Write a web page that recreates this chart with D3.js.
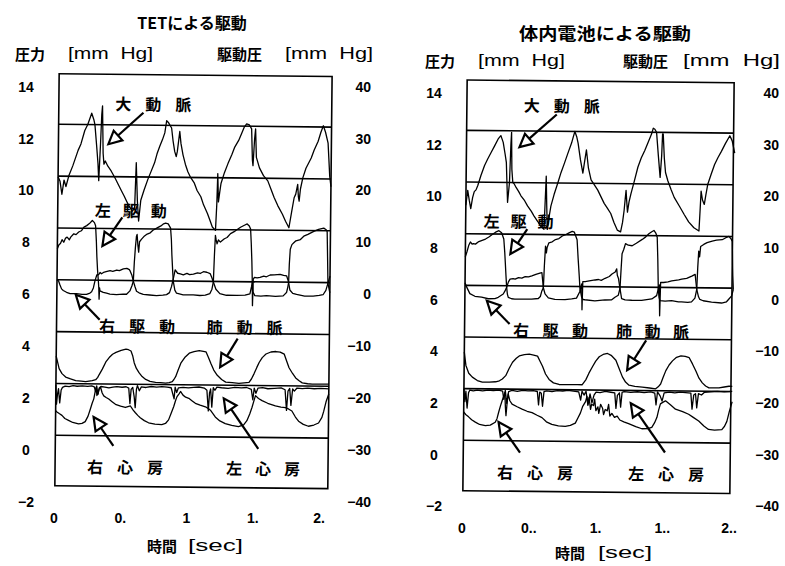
<!DOCTYPE html>
<html>
<head>
<meta charset="utf-8">
<script src="https://cdn.jsdelivr.net/npm/d3@7"></script>
<style>
  body { margin: 0; background: #fff; }
  svg { display: block; }
  text { white-space: pre; fill: #000; }
  .num { font: bold 14px "Liberation Sans", Arial, sans-serif; }
  .jp { font-family: "Noto Sans CJK JP", sans-serif; font-weight: 700; }
  .lat { font-family: "Liberation Sans", Arial, sans-serif; font-weight: 400; }
</style>
</head>
<body>
<svg id="chart" width="785" height="566"></svg>
<script>
// ---- axis ticks ----
const pressureTicks = [14, 12, 10, 8, 6, 4, 2, 0, -2];          // 圧力 [mm Hg]
const drivePressureTicks = [40, 30, 20, 10, 0, -10, -20, -30, -40]; // 駆動圧 [mm Hg]
const timeTickValues = [0, 0.5, 1, 1.5, 2];
const tetTimeLabels = ["0", "0.", "1", "1.", "2."];
const batTimeLabels = ["0", "0..", "1.", "1..", "2.."];
const baselineLevels = [0.5, 2.5, 4.5, 6.5, 8.5, 10.5, 12.5];

// ---- TET drive: [time s, pressure] ----
const tetAorta = [[0,10.47],[0.015,10.3],[0.03,9.8],[0.045,10.35],[0.06,10.1],[0.083,10.55],[0.11,10.9],[0.149,11.5],[0.17,11.75],[0.198,12.27],[0.22,12.5],[0.249,12.94],[0.265,12.7],[0.274,12.5],[0.29,11.6],[0.30,11.0],[0.307,10.34],[0.318,11.8],[0.325,12.9],[0.33,13.23],[0.338,11.4],[0.345,10.98],[0.355,11.1],[0.375,10.9],[0.40,10.72],[0.43,10.45],[0.45,10.25],[0.48,9.95],[0.50,9.76],[0.52,9.55],[0.538,9.37],[0.564,9.18],[0.58,9.3],[0.589,11.05],[0.60,9.6],[0.611,8.8],[0.626,9.6],[0.65,10.0],[0.677,10.4],[0.70,10.7],[0.727,11.05],[0.745,11.4],[0.765,11.69],[0.785,11.95],[0.802,12.21],[0.815,12.68],[0.83,12.6],[0.853,12.40],[0.865,11.9],[0.878,11.5],[0.89,11.3],[0.898,11.5],[0.915,12.27],[0.925,11.8],[0.941,11.37],[0.96,11.0],[0.979,10.72],[1.0,10.5],[1.029,10.28],[1.05,10.0],[1.079,9.76],[1.10,9.45],[1.13,9.12],[1.15,8.85],[1.168,8.60],[1.192,8.47],[1.200,9.5],[1.205,10.66],[1.212,9.57],[1.22,9.9],[1.23,10.28],[1.255,10.7],[1.281,11.05],[1.31,11.4],[1.331,11.69],[1.36,11.95],[1.381,12.21],[1.40,12.45],[1.419,12.59],[1.44,12.55],[1.457,12.40],[1.465,11.2],[1.47,10.98],[1.48,12.0],[1.487,12.40],[1.495,11.3],[1.519,10.9],[1.55,10.6],[1.583,10.4],[1.61,10.05],[1.632,9.76],[1.66,9.45],[1.696,9.12],[1.72,8.85],[1.746,8.60],[1.765,9.2],[1.783,9.76],[1.795,9.9],[1.809,10.28],[1.815,9.8],[1.821,9.63],[1.83,10.1],[1.847,10.53],[1.87,10.9],[1.909,11.30],[1.93,11.6],[1.96,11.95],[1.98,12.3],[1.998,12.55],[2.015,12.3],[2.035,11.88],[2.05,10.6],[2.06,10.2]];
const tetLvDrive = [[0,7.7],[0.012,7.85],[0.023,7.9],[0.035,8.05],[0.048,7.95],[0.06,8.1],[0.073,8.15],[0.09,8.05],[0.10,8.15],[0.123,8.28],[0.14,8.25],[0.16,8.35],[0.18,8.4],[0.199,8.54],[0.22,8.6],[0.24,8.68],[0.262,8.80],[0.278,8.72],[0.287,8.6],[0.294,8.0],[0.299,7.4],[0.305,6.9],[0.312,6.48],[0.316,6.2],[0.319,5.77],[0.322,6.2],[0.325,6.09],[0.35,6.03],[0.375,6.0],[0.40,5.97],[0.45,5.95],[0.50,5.97],[0.526,5.97],[0.551,6.1],[0.566,6.3],[0.576,6.48],[0.582,7.2],[0.589,7.77],[0.596,8.2],[0.601,8.28],[0.607,7.9],[0.614,7.6],[0.62,8.0],[0.635,8.1],[0.652,8.2],[0.677,8.3],[0.70,8.35],[0.72,8.45],[0.752,8.54],[0.78,8.62],[0.80,8.7],[0.815,8.73],[0.835,8.7],[0.853,8.54],[0.86,8.1],[0.865,7.5],[0.872,6.9],[0.878,6.48],[0.89,6.15],[0.903,6.03],[0.953,5.97],[1.029,5.97],[1.079,5.95],[1.12,5.97],[1.155,6.03],[1.17,6.2],[1.18,6.48],[1.186,7.5],[1.192,8.28],[1.198,8.1],[1.205,7.95],[1.215,8.1],[1.23,8.02],[1.26,8.15],[1.28,8.2],[1.306,8.35],[1.34,8.45],[1.381,8.60],[1.41,8.68],[1.431,8.73],[1.447,8.65],[1.457,8.54],[1.463,8.0],[1.469,7.3],[1.474,6.48],[1.48,6.1],[1.494,5.97],[1.54,5.95],[1.582,5.97],[1.65,5.95],[1.708,5.97],[1.733,6.1],[1.742,6.3],[1.748,6.48],[1.752,7.2],[1.758,7.77],[1.77,7.95],[1.784,8.02],[1.80,8.1],[1.834,8.15],[1.859,8.28],[1.89,8.35],[1.934,8.47],[1.97,8.55],[2.009,8.60],[2.025,8.55],[2.035,8.47],[2.04,7.5],[2.045,6.48],[2.06,6.1]];
const tetRvDrive = [[0,6.5],[0.012,6.45],[0.023,6.3],[0.035,6.15],[0.048,6.09],[0.073,6.02],[0.10,5.97],[0.148,5.97],[0.19,5.95],[0.224,5.95],[0.25,6.0],[0.262,6.05],[0.275,6.2],[0.287,6.48],[0.30,6.7],[0.315,6.72],[0.325,6.80],[0.335,6.75],[0.35,6.80],[0.37,6.83],[0.40,6.87],[0.42,6.85],[0.45,6.90],[0.47,6.88],[0.50,6.95],[0.526,6.97],[0.545,6.92],[0.551,6.87],[0.565,6.7],[0.576,6.48],[0.59,6.25],[0.601,6.09],[0.62,6.03],[0.652,5.97],[0.70,5.95],[0.752,5.93],[0.80,5.95],[0.828,5.97],[0.85,6.05],[0.865,6.29],[0.878,6.6],[0.891,6.93],[0.91,6.8],[0.93,6.78],[0.953,6.74],[0.98,6.8],[1.0,6.75],[1.029,6.77],[1.06,6.82],[1.08,6.8],[1.104,6.87],[1.13,6.85],[1.155,6.80],[1.168,6.65],[1.18,6.48],[1.2,6.2],[1.23,6.03],[1.28,5.97],[1.356,5.97],[1.42,5.98],[1.457,6.03],[1.468,6.3],[1.474,6.48],[1.477,5.58],[1.481,6.6],[1.49,6.67],[1.51,6.65],[1.532,6.67],[1.56,6.72],[1.58,6.7],[1.608,6.77],[1.64,6.78],[1.683,6.80],[1.71,6.76],[1.733,6.74],[1.745,6.55],[1.748,6.48],[1.758,6.2],[1.78,6.07],[1.809,6.03],[1.87,5.97],[1.934,5.97],[1.98,6.0],[2.009,6.03],[2.03,6.2],[2.045,6.48],[2.06,6.75]];
const tetPulmArtery = [[0,3.55],[0.012,3.3],[0.023,3.07],[0.045,2.88],[0.073,2.75],[0.11,2.68],[0.149,2.62],[0.19,2.6],[0.224,2.58],[0.25,2.6],[0.274,2.62],[0.30,2.66],[0.315,2.75],[0.325,2.85],[0.349,3.07],[0.375,3.35],[0.40,3.52],[0.425,3.65],[0.451,3.72],[0.49,3.8],[0.526,3.85],[0.545,3.83],[0.564,3.78],[0.577,3.6],[0.589,3.33],[0.605,3.12],[0.626,2.95],[0.65,2.8],[0.677,2.69],[0.71,2.62],[0.752,2.58],[0.79,2.57],[0.828,2.56],[0.855,2.58],[0.878,2.62],[0.89,2.7],[0.903,2.81],[0.92,3.05],[0.941,3.33],[0.97,3.55],[1.004,3.72],[1.04,3.78],[1.079,3.82],[1.11,3.8],[1.13,3.78],[1.15,3.55],[1.168,3.33],[1.19,3.08],[1.217,2.88],[1.25,2.72],[1.281,2.62],[1.33,2.6],[1.381,2.58],[1.42,2.6],[1.457,2.62],[1.475,2.75],[1.494,2.95],[1.515,3.2],[1.532,3.39],[1.555,3.58],[1.583,3.72],[1.62,3.8],[1.658,3.82],[1.69,3.8],[1.721,3.72],[1.74,3.45],[1.758,3.20],[1.785,2.98],[1.809,2.81],[1.835,2.7],[1.859,2.62],[1.9,2.59],[1.934,2.58],[1.98,2.58],[2.023,2.58],[2.06,2.58]];
const tetRightAtrium = [[0,1.45],[0.01,1.40],[0.03,1.33],[0.048,1.27],[0.07,1.15],[0.098,1.08],[0.13,1.0],[0.174,0.95],[0.2,0.97],[0.224,1.04],[0.245,1.25],[0.262,1.53],[0.275,1.75],[0.287,1.92],[0.297,2.2],[0.304,2.37],[0.31,2.05],[0.317,2.11],[0.326,2.3],[0.337,2.37],[0.35,2.15],[0.362,2.04],[0.38,1.98],[0.40,1.92],[0.425,1.82],[0.451,1.72],[0.49,1.65],[0.526,1.60],[0.545,1.63],[0.564,1.66],[0.585,1.5],[0.602,1.40],[0.62,1.3],[0.639,1.21],[0.67,1.1],[0.702,1.02],[0.75,0.97],[0.802,0.95],[0.83,1.0],[0.853,1.14],[0.872,1.4],[0.891,1.66],[0.905,1.9],[0.915,2.04],[0.93,2.15],[0.941,2.24],[0.96,2.1],[0.98,2.02],[1.004,1.98],[1.03,1.88],[1.054,1.79],[1.09,1.72],[1.13,1.66],[1.15,1.6],[1.168,1.53],[1.19,1.38],[1.205,1.27],[1.24,1.12],[1.281,1.02],[1.33,0.95],[1.381,0.91],[1.42,0.98],[1.444,1.14],[1.465,1.4],[1.482,1.66],[1.495,1.9],[1.507,2.11],[1.53,2.0],[1.557,1.92],[1.6,1.82],[1.658,1.72],[1.7,1.68],[1.734,1.66],[1.76,1.6],[1.783,1.53],[1.81,1.3],[1.834,1.14],[1.87,1.02],[1.909,0.95],[1.95,1.0],[1.985,1.08],[2.01,1.3],[2.023,1.53],[2.04,1.9],[2.06,2.2]];
const tetLeftAtrium = [[0,2.45],[0.006,1.7],[0.013,2.1],[0.02,2.3],[0.03,1.75],[0.04,2.25],[0.05,2.35],[0.07,2.4],[0.1,2.38],[0.13,2.42],[0.16,2.4],[0.2,2.42],[0.24,2.4],[0.27,2.42],[0.29,2.38],[0.30,2.2],[0.308,2.42],[0.318,2.1],[0.328,2.35],[0.34,2.4],[0.37,2.38],[0.40,2.35],[0.43,2.38],[0.46,2.4],[0.5,2.38],[0.53,2.4],[0.55,2.35],[0.56,1.75],[0.568,2.3],[0.58,2.38],[0.592,2.0],[0.6,1.6],[0.608,2.3],[0.615,2.45],[0.63,2.25],[0.645,2.4],[0.68,2.38],[0.72,2.42],[0.76,2.4],[0.8,2.42],[0.84,2.4],[0.87,2.38],[0.885,2.1],[0.893,1.95],[0.9,2.4],[0.912,2.2],[0.925,2.38],[0.96,2.4],[1.0,2.38],[1.04,2.4],[1.08,2.42],[1.12,2.38],[1.14,2.3],[1.152,1.5],[1.16,2.2],[1.168,2.35],[1.178,1.65],[1.188,2.4],[1.2,2.3],[1.215,2.42],[1.25,2.4],[1.3,2.38],[1.35,2.42],[1.4,2.4],[1.44,2.42],[1.475,2.35],[1.487,1.95],[1.497,2.4],[1.51,2.2],[1.525,2.4],[1.56,2.42],[1.6,2.38],[1.65,2.4],[1.7,2.42],[1.73,2.35],[1.742,1.55],[1.752,2.3],[1.765,2.4],[1.775,1.75],[1.787,2.38],[1.80,2.3],[1.82,2.42],[1.86,2.4],[1.9,2.42],[1.95,2.4],[2.0,2.42],[2.06,2.4]];

// ---- internal battery drive: [time s, pressure] ----
const batAorta = [[0,9.6],[0.013,10.18],[0.025,9.8],[0.037,9.47],[0.05,9.9],[0.062,10.13],[0.075,10.2],[0.088,10.37],[0.11,10.75],[0.137,11.15],[0.16,11.4],[0.187,11.67],[0.21,11.9],[0.237,12.18],[0.257,12.31],[0.275,12.05],[0.29,11.6],[0.30,11.28],[0.306,10.5],[0.312,9.73],[0.325,10.5],[0.333,12.0],[0.337,12.44],[0.342,11.0],[0.35,10.50],[0.36,10.45],[0.375,10.31],[0.395,10.15],[0.412,9.99],[0.44,9.8],[0.462,9.60],[0.49,9.4],[0.512,9.21],[0.54,9.0],[0.562,8.82],[0.587,8.70],[0.594,9.8],[0.60,10.76],[0.606,9.6],[0.612,8.70],[0.625,9.2],[0.637,9.60],[0.66,10.05],[0.687,10.50],[0.71,10.9],[0.736,11.28],[0.76,11.65],[0.787,12.05],[0.8,12.3],[0.811,12.50],[0.825,12.3],[0.836,12.05],[0.855,11.4],[0.874,10.89],[0.885,11.3],[0.899,11.79],[0.915,11.1],[0.936,10.63],[0.96,10.45],[0.987,10.24],[1.01,10.0],[1.036,9.73],[1.06,9.55],[1.086,9.34],[1.11,9.0],[1.136,8.70],[1.161,8.63],[1.175,9.0],[1.186,9.47],[1.193,9.9],[1.199,10.24],[1.205,9.8],[1.211,9.40],[1.222,9.8],[1.236,10.12],[1.26,10.6],[1.286,11.15],[1.31,11.5],[1.336,11.79],[1.36,12.1],[1.386,12.44],[1.398,12.66],[1.41,12.62],[1.423,12.50],[1.438,11.6],[1.453,10.76],[1.463,11.6],[1.468,12.44],[1.473,12.44],[1.483,11.5],[1.493,10.95],[1.511,10.63],[1.535,10.3],[1.56,9.99],[1.6,9.65],[1.635,9.34],[1.67,9.05],[1.71,8.82],[1.748,8.70],[1.755,9.5],[1.761,10.24],[1.772,9.9],[1.786,9.73],[1.797,10.1],[1.81,10.50],[1.835,10.9],[1.86,11.28],[1.885,11.55],[1.91,11.79],[1.94,12.1],[1.972,12.40],[1.99,12.2],[2.01,11.73]];
const batLvDrive = [[0,7.6],[0.012,7.8],[0.025,8.05],[0.037,8.18],[0.05,8.1],[0.06,8.12],[0.075,8.1],[0.1,8.2],[0.125,8.25],[0.15,8.3],[0.175,8.38],[0.2,8.48],[0.225,8.57],[0.25,8.63],[0.27,8.55],[0.287,8.31],[0.295,7.8],[0.30,7.4],[0.306,6.9],[0.312,6.44],[0.318,6.18],[0.325,6.05],[0.35,6.0],[0.375,5.99],[0.425,5.99],[0.50,5.99],[0.55,6.02],[0.565,6.1],[0.575,6.3],[0.587,6.44],[0.593,7.3],[0.60,8.05],[0.607,7.79],[0.612,8.0],[0.625,8.18],[0.65,8.22],[0.674,8.31],[0.70,8.35],[0.725,8.45],[0.749,8.50],[0.775,8.57],[0.799,8.63],[0.815,8.6],[0.836,8.31],[0.845,7.6],[0.855,6.9],[0.861,6.44],[0.874,6.1],[0.886,6.0],[0.899,5.99],[0.974,5.95],[1.049,5.99],[1.1,6.0],[1.124,6.1],[1.149,6.18],[1.161,6.44],[1.168,7.2],[1.174,7.79],[1.186,7.95],[1.199,8.18],[1.22,8.12],[1.249,8.1],[1.28,8.2],[1.324,8.35],[1.35,8.45],[1.373,8.57],[1.395,8.65],[1.411,8.70],[1.425,8.6],[1.436,8.44],[1.442,7.6],[1.448,6.44],[1.455,6.1],[1.461,5.99],[1.5,5.97],[1.548,5.99],[1.6,5.95],[1.623,5.95],[1.67,5.93],[1.698,5.95],[1.723,6.1],[1.736,6.44],[1.742,7.3],[1.748,7.92],[1.755,7.7],[1.762,8.1],[1.785,8.18],[1.81,8.25],[1.848,8.31],[1.88,8.35],[1.923,8.37],[1.95,8.45],[1.973,8.50],[1.99,8.4],[1.998,8.31],[2.005,7.0],[2.01,6.44]];
const batRvDrive = [[0,6.6],[0.012,6.44],[0.037,6.18],[0.075,6.08],[0.125,6.05],[0.175,5.99],[0.225,6.0],[0.25,6.05],[0.287,6.18],[0.30,6.3],[0.312,6.44],[0.325,6.65],[0.337,6.76],[0.36,6.78],[0.375,6.76],[0.40,6.82],[0.425,6.8],[0.45,6.86],[0.475,6.85],[0.50,6.89],[0.53,6.95],[0.56,7.0],[0.575,7.02],[0.587,6.44],[0.60,6.2],[0.625,6.05],[0.674,5.99],[0.75,5.99],[0.8,6.02],[0.836,6.05],[0.86,6.3],[0.866,6.44],[0.874,6.6],[0.878,5.6],[0.882,6.69],[0.9,6.69],[0.93,6.72],[0.974,6.76],[1.0,6.78],[1.02,6.75],[1.049,6.83],[1.08,6.9],[1.1,7.0],[1.124,7.08],[1.135,7.2],[1.14,6.95],[1.149,6.83],[1.161,6.44],[1.174,6.05],[1.2,6.0],[1.249,5.99],[1.324,5.99],[1.4,6.05],[1.436,6.18],[1.448,6.44],[1.455,6.6],[1.46,5.4],[1.465,6.69],[1.486,6.69],[1.52,6.72],[1.548,6.76],[1.6,6.8],[1.623,6.83],[1.66,6.86],[1.698,6.95],[1.723,7.02],[1.73,6.7],[1.736,6.44],[1.75,6.15],[1.76,6.05],[1.785,6.0],[1.848,5.95],[1.923,5.92],[1.96,5.97],[1.973,6.05],[1.998,6.2],[2.01,6.44]];
const batPulmArtery = [[0,3.92],[0.013,3.40],[0.035,3.1],[0.062,2.95],[0.1,2.82],[0.137,2.76],[0.19,2.76],[0.237,2.78],[0.265,2.82],[0.287,2.89],[0.312,3.02],[0.337,3.3],[0.362,3.54],[0.39,3.7],[0.412,3.79],[0.45,3.84],[0.487,3.86],[0.52,3.83],[0.549,3.79],[0.567,3.6],[0.587,3.40],[0.61,3.1],[0.637,2.89],[0.67,2.76],[0.712,2.70],[0.76,2.7],[0.811,2.70],[0.85,2.7],[0.886,2.70],[0.912,2.89],[0.935,3.15],[0.961,3.40],[0.985,3.62],[1.011,3.79],[1.04,3.88],[1.073,3.92],[1.1,3.85],[1.136,3.66],[1.16,3.35],[1.186,3.02],[1.21,2.82],[1.236,2.70],[1.28,2.66],[1.336,2.63],[1.39,2.6],[1.436,2.57],[1.455,2.65],[1.473,2.76],[1.49,3.0],[1.511,3.28],[1.535,3.5],[1.56,3.66],[1.59,3.8],[1.623,3.86],[1.655,3.84],[1.685,3.79],[1.71,3.55],[1.736,3.28],[1.76,3.0],[1.785,2.82],[1.81,2.7],[1.835,2.63],[1.87,2.63],[1.91,2.63],[1.95,2.67],[1.985,2.70],[2.01,2.7]];
const batRightAtrium = [[0,1.60],[0.015,1.5],[0.037,1.41],[0.06,1.3],[0.088,1.21],[0.12,1.12],[0.163,1.08],[0.2,1.1],[0.237,1.21],[0.25,1.35],[0.262,1.60],[0.275,1.85],[0.287,2.05],[0.3,2.25],[0.307,2.37],[0.312,1.8],[0.317,1.47],[0.325,2.0],[0.332,2.31],[0.345,2.05],[0.362,1.92],[0.4,1.82],[0.437,1.73],[0.475,1.65],[0.512,1.60],[0.55,1.5],[0.587,1.41],[0.62,1.25],[0.661,1.15],[0.71,1.1],[0.762,1.08],[0.8,1.12],[0.837,1.21],[0.855,1.4],[0.874,1.60],[0.89,1.85],[0.912,2.05],[0.922,2.25],[0.93,1.95],[0.938,2.2],[0.95,1.75],[0.958,1.95],[0.972,1.9],[0.98,2.15],[0.99,1.7],[1.005,1.85],[1.012,1.6],[1.025,1.95],[1.04,1.8],[1.048,1.55],[1.06,1.75],[1.075,1.7],[1.085,1.95],[1.095,1.5],[1.11,1.6],[1.13,1.45],[1.15,1.5],[1.17,1.35],[1.2,1.28],[1.236,1.21],[1.29,1.1],[1.336,1.02],[1.38,1.03],[1.41,1.08],[1.43,1.25],[1.448,1.47],[1.46,1.75],[1.473,1.99],[1.49,2.05],[1.511,2.11],[1.55,1.95],[1.586,1.79],[1.64,1.7],[1.685,1.60],[1.72,1.48],[1.761,1.34],[1.8,1.15],[1.835,1.02],[1.88,1.0],[1.935,1.02],[1.955,1.15],[1.972,1.34],[1.99,1.73],[2.01,2.1]];
const batLeftAtrium = [[0,2.5],[0.008,2.0],[0.015,2.4],[0.025,1.75],[0.035,2.35],[0.045,2.45],[0.07,2.42],[0.1,2.45],[0.14,2.42],[0.18,2.45],[0.22,2.44],[0.26,2.46],[0.29,2.42],[0.3,2.1],[0.31,2.45],[0.322,1.95],[0.335,2.4],[0.36,2.45],[0.4,2.42],[0.44,2.46],[0.48,2.44],[0.52,2.45],[0.55,2.42],[0.56,1.9],[0.568,2.4],[0.58,2.35],[0.59,1.85],[0.6,2.42],[0.62,2.45],[0.66,2.42],[0.7,2.46],[0.74,2.45],[0.78,2.48],[0.82,2.45],[0.86,2.42],[0.875,2.1],[0.885,2.45],[0.9,2.3],[0.915,2.45],[0.93,1.9],[0.945,2.35],[0.96,2.0],[0.975,2.3],[0.99,2.42],[1.02,2.4],[1.06,2.45],[1.1,2.42],[1.13,2.4],[1.14,1.8],[1.15,2.3],[1.165,2.4],[1.175,1.85],[1.185,2.42],[1.2,2.45],[1.25,2.42],[1.3,2.45],[1.35,2.42],[1.4,2.45],[1.43,2.4],[1.44,1.95],[1.45,2.45],[1.47,2.3],[1.485,2.1],[1.5,2.42],[1.54,2.45],[1.58,2.42],[1.62,2.45],[1.66,2.44],[1.7,2.42],[1.71,1.8],[1.722,2.35],[1.735,2.4],[1.745,1.85],[1.757,2.4],[1.78,2.35],[1.8,2.45],[1.85,2.48],[1.9,2.5],[1.95,2.48],[2.01,2.5]];

// ---- trace labels: text, centre [t, p], character pitch (px) ----
const tetLabels = [
  ["大動脈", [0.713, 13.34], 30], ["左駆動", [0.551, 9.23], 28],
  ["右駆動", [0.608, 4.77], 30], ["肺動脈", [1.419, 4.77], 30],
  ["右心房", [0.528, -0.67], 30], ["左心房", [1.57, -0.67], 29]
];
const batLabels = [
  ["大動脈", [0.712, 13.52], 30], ["左駆動", [0.397, 9.03], 27],
  ["右駆動", [0.644, 4.82], 29.5], ["肺動脈", [1.408, 4.82], 28.5],
  ["右心房", [0.539, -0.69], 30], ["左心房", [1.521, -0.69], 30]
];
// ---- pointer arrows: tail [t, p] -> tip [t, p] ----
const tetArrows = [
  [[0.639, 12.98], [0.377, 11.75]], [[0.488, 8.93], [0.34, 7.82]],
  [[0.325, 4.97], [0.143, 5.93]], [[1.368, 4.30], [1.238, 3.19]],
  [[0.438, 0.11], [0.287, 1.22]], [[1.532, 0.06], [1.268, 1.99]]
];
const batArrows = [
  [[0.674, 13.15], [0.397, 11.87]], [[0.462, 8.70], [0.337, 7.73]],
  [[0.337, 5.02], [0.165, 5.91]], [[1.361, 4.44], [1.221, 3.28]],
  [[0.425, 0.05], [0.262, 1.22]], [[1.511, 0.11], [1.251, 2.0]]
];

const svg = d3.select("#chart");

const panels = [
  {
    title: "TETによる駆動", titleX: 192, titleY: 22, titleSize: 16, titleLen: null,
    series: [tetAorta, tetLvDrive, tetRvDrive, tetPulmArtery, tetRightAtrium, tetLeftAtrium],
    labels: tetLabels, arrows: tetArrows, timeLabels: tetTimeLabels,
    xRange: [57, 322], tEnd: 2.06, yRange: [501.5, 86.8],
    leftTickX: 26, rightTickX: 371, timeTickY: 518,
    unitY: 53, leftUnit: [15, 68, 153], rightUnit: [217, 285, 373],
    xTitle: [147, 188, 243, 545]
  },
  {
    title: "体内電池による駆動", titleX: 605, titleY: 32, titleSize: 17, titleLen: 172,
    series: [batAorta, batLvDrive, batRvDrive, batPulmArtery, batRightAtrium, batLeftAtrium],
    labels: batLabels, arrows: batArrows, timeLabels: batTimeLabels,
    xRange: [465, 732], tEnd: 2.0, yRange: [506.3, 93.0],
    leftTickX: 434, rightTickX: 779, timeTickY: 528,
    unitY: 60, leftUnit: [425, 478, 565], rightUnit: [623, 683, 780],
    xTitle: [555, 598, 652, 552]
  }
];

const fmt = d3.format("d");

function arrow(g, from, to) {
  const dx = to[0] - from[0], dy = to[1] - from[1];
  const len = Math.hypot(dx, dy), ux = dx / len, uy = dy / len;
  const L = 13, W = 6.5;
  const bx = to[0] - ux * L, by = to[1] - uy * L;
  g.append("line").attr("x1", from[0]).attr("y1", from[1]).attr("x2", bx).attr("y2", by)
    .attr("stroke", "#000").attr("stroke-width", 2.2);
  g.append("path")
    .attr("d", `M${to[0]},${to[1]}L${bx - uy * W},${by + ux * W}L${bx + uy * W},${by - ux * W}Z`)
    .attr("fill", "#fff").attr("stroke", "#000").attr("stroke-width", 2.2)
    .attr("stroke-linejoin", "miter");
}

panels.forEach(p => {
  const x = d3.scaleLinear().domain([0, 2]).range(p.xRange);
  const y = d3.scaleLinear().domain([-2, 14]).range(p.yRange);
  const yDrive = d3.scaleLinear().domain([-40, 40]).range(p.yRange);

  const fx0 = x(0), fx1 = x(p.tEnd), fy0 = y(14.45), fy1 = y(-1.45);
  const cx = (fx0 + fx1) / 2, cy = (fy0 + fy1) / 2;

  // title and axis captions
  const title = svg.append("text").attr("class", "jp").attr("x", p.titleX).attr("y", p.titleY)
    .attr("text-anchor", "middle").attr("dominant-baseline", "central")
    .attr("font-size", p.titleSize).text(p.title);
  if (p.titleLen) title.attr("textLength", p.titleLen).attr("lengthAdjust", "spacingAndGlyphs");

  const unit = (xs, head) => {
    svg.append("text").attr("class", "jp").attr("x", xs[0]).attr("y", p.unitY)
      .attr("dominant-baseline", "central").attr("font-size", 15).text(head);
    svg.append("text").attr("class", "lat").attr("x", xs[1]).attr("y", p.unitY)
      .attr("dominant-baseline", "central").attr("font-size", 16)
      .attr("textLength", xs[2] - xs[1]).attr("lengthAdjust", "spacingAndGlyphs").text("[mm  Hg]");
  };
  unit(p.leftUnit, "圧力");
  unit(p.rightUnit, "駆動圧");

  svg.append("text").attr("class", "jp").attr("x", p.xTitle[0]).attr("y", p.xTitle[3])
    .attr("dominant-baseline", "central").attr("font-size", 15).text("時間");
  svg.append("text").attr("class", "lat").attr("x", p.xTitle[1]).attr("y", p.xTitle[3])
    .attr("dominant-baseline", "central").attr("font-size", 16)
    .attr("textLength", p.xTitle[2] - p.xTitle[1]).attr("lengthAdjust", "spacingAndGlyphs").text("[sec]");

  // tick labels
  svg.append("g").selectAll("text").data(pressureTicks).join("text")
    .attr("class", "num").attr("x", p.leftTickX).attr("y", d => y(d))
    .attr("text-anchor", "middle").attr("dominant-baseline", "central").text(d => fmt(d));
  svg.append("g").selectAll("text").data(drivePressureTicks).join("text")
    .attr("class", "num").attr("x", p.rightTickX).attr("y", d => yDrive(d))
    .attr("text-anchor", "end").attr("dominant-baseline", "central").text(d => fmt(d));
  svg.append("g").selectAll("text").data(timeTickValues).join("text")
    .attr("class", "num").attr("x", d => x(d) - 3).attr("y", p.timeTickY)
    .attr("text-anchor", "middle").attr("dominant-baseline", "central")
    .text((d, i) => p.timeLabels[i]);

  // plot area (slightly tilted, as on the recorder sheet)
  const plot = svg.append("g").attr("transform", `rotate(0.6 ${cx} ${cy})`);
  plot.append("rect").attr("x", fx0).attr("y", fy0).attr("width", fx1 - fx0).attr("height", fy1 - fy0)
    .attr("fill", "none").attr("stroke", "#000").attr("stroke-width", 1.6);
  plot.append("g").selectAll("line").data(baselineLevels).join("line")
    .attr("x1", fx0).attr("x2", fx1).attr("y1", d => y(d)).attr("y2", d => y(d))
    .attr("stroke", "#000").attr("stroke-width", 1.6);

  const line = d3.line().x(d => x(d[0])).y(d => y(d[1]));
  plot.append("g").selectAll("path").data(p.series).join("path")
    .attr("d", line).attr("fill", "none").attr("stroke", "#000")
    .attr("stroke-width", 1.3).attr("stroke-linejoin", "round");

  // trace names
  p.labels.forEach(([txt, pos, pitch]) => {
    const chars = Array.from(txt);
    plot.append("g").selectAll("text").data(chars).join("text")
      .attr("class", "jp").attr("font-size", 16)
      .attr("x", (c, i) => x(pos[0]) + (i - (chars.length - 1) / 2) * pitch)
      .attr("y", y(pos[1])).attr("text-anchor", "middle").attr("dominant-baseline", "central")
      .text(c => c);
  });
  p.arrows.forEach(([a, b]) => arrow(plot, [x(a[0]), y(a[1])], [x(b[0]), y(b[1])]));
});
</script>
</body>
</html>
